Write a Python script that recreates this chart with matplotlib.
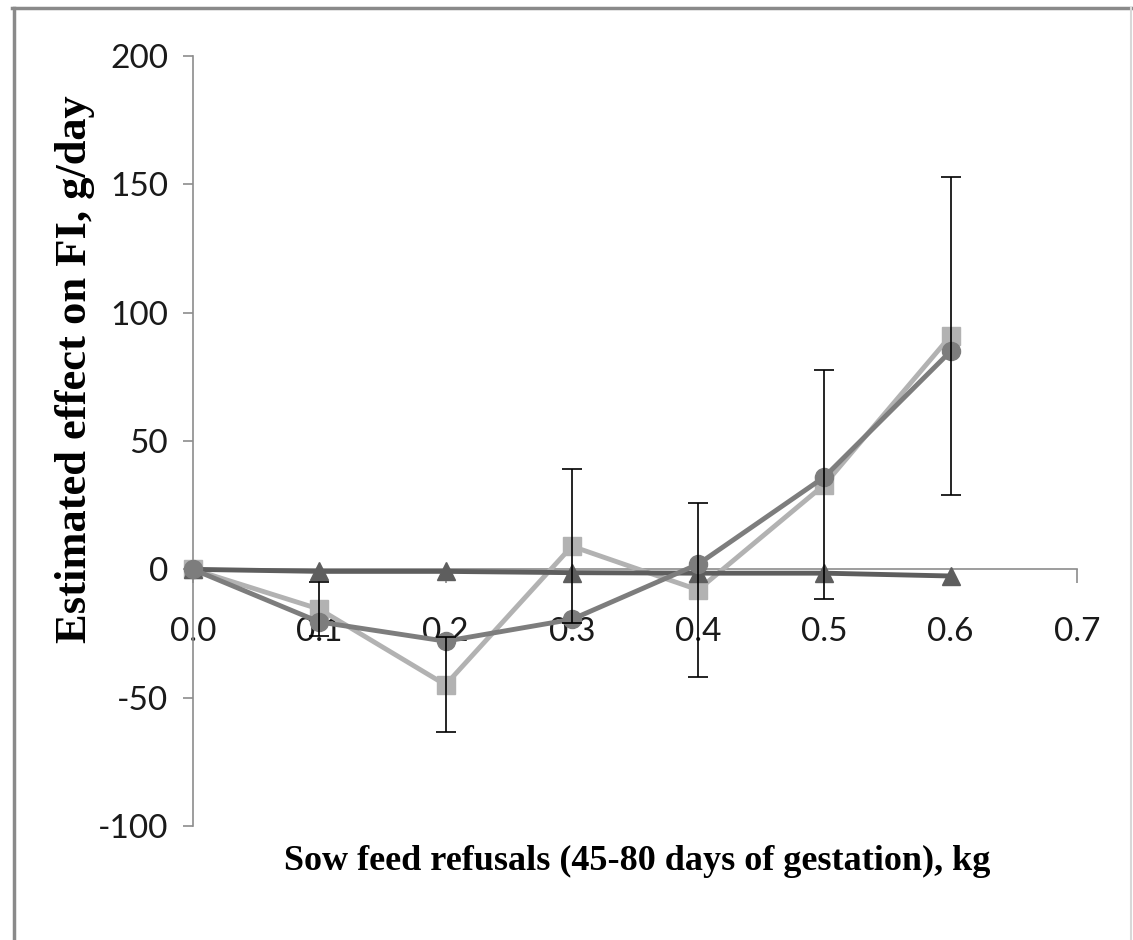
import matplotlib
matplotlib.use("Agg")
import matplotlib.pyplot as plt
from matplotlib.lines import Line2D

# Data
x_vals = [0.0, 0.1, 0.2, 0.3, 0.4, 0.5, 0.6]
square_vals = [0, -15.5, -45, 9, -8, 33, 91]
square_err = [0, 10.5, 18.5, 30, 34, 44.5, 62]
circle_vals = [0, -20.5, -28, -19.5, 2, 36, 85]
triangle_vals = [0, -0.8, -0.8, -1.3, -1.5, -1.5, -2.6]
x_ticks = [0.0, 0.1, 0.2, 0.3, 0.4, 0.5, 0.6, 0.7]
y_ticks = [-100, -50, 0, 50, 100, 150, 200]

fig = plt.figure(figsize=(11.33, 9.40), dpi=100)
ax = fig.add_axes([0.1703, 0.1213, 0.7803, 0.8191])

tick_font = "Lato"
title_font = "Liberation Serif"

for s in ["top", "right"]:
    ax.spines[s].set_visible(False)
ax.spines["bottom"].set_position(("data", 0))
ax.spines["bottom"].set_color("#8c8c8c")
ax.spines["left"].set_color("#8c8c8c")
ax.spines["bottom"].set_linewidth(1.2)
ax.spines["left"].set_linewidth(1.2)

ax.plot(x_vals, square_vals, color="#b2b2b2", lw=3.5, marker="s", ms=13,
        mec="#b2b2b2", mfc="#b2b2b2", zorder=3, clip_on=False)
ax.plot(x_vals, triangle_vals, color="#5e5e5e", lw=3.5, marker="^", ms=13,
        mec="#5e5e5e", mfc="#5e5e5e", zorder=4, clip_on=False)
ax.plot(x_vals, circle_vals, color="#7d7d7d", lw=3.5, marker="o", ms=13,
        mec="#7d7d7d", mfc="#7d7d7d", zorder=5, clip_on=False)
ax.errorbar(x_vals[1:], square_vals[1:], yerr=square_err[1:], fmt="none",
            ecolor="black", elinewidth=1.2, capsize=7, capthick=1.2, zorder=6,
            clip_on=False)

ax.set_xlim(0, 0.7)
ax.set_ylim(-100, 200)
ax.set_xticks(x_ticks)
ax.set_yticks(y_ticks)
ax.set_xticklabels([f"{v:.1f}" for v in x_ticks])
ax.set_yticklabels([str(v) for v in y_ticks])
ax.tick_params(axis="y", direction="out", length=7, width=1.2, color="#8c8c8c",
               pad=11, labelcolor="#1a1a1a", labelsize=24)
ax.tick_params(axis="x", direction="out", length=10, width=1.2, color="#8c8c8c",
               pad=24, labelcolor="#1a1a1a", labelsize=24)
for lab in ax.get_xticklabels() + ax.get_yticklabels():
    lab.set_fontfamily(tick_font)

fig.text(0.562, 0.083, "Sow feed refusals (45-80 days of gestation), kg",
         ha="center", va="center", fontfamily=title_font, fontweight="bold",
         fontsize=26)
fig.text(0.066, 0.607, "Estimated effect on FI, g/day", ha="center", va="center",
         rotation=90, fontfamily=title_font, fontweight="bold", fontsize=32)

# figure border
fig.add_artist(Line2D([0.012, 0.012], [0.0, 0.992], transform=fig.transFigure,
                      color="#8a8a8a", lw=2.5))
fig.add_artist(Line2D([0.011, 1.0], [0.992, 0.992], transform=fig.transFigure,
                      color="#8a8a8a", lw=2.5))
fig.add_artist(Line2D([0.9985, 0.9985], [0.0, 0.992], transform=fig.transFigure,
                      color="#d8d8d8", lw=1.5))

fig.savefig("out.png", dpi=100)
